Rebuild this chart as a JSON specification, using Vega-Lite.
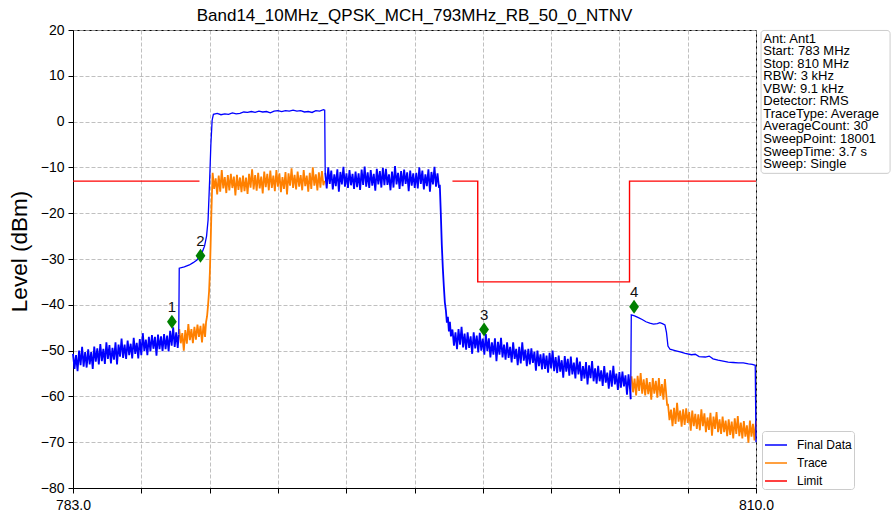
{
"$schema": "https://vega.github.io/schema/vega-lite/v6.json",
"width": 683, "height": 458,
"autosize": {"type": "none"},
"padding": {"left": 73, "top": 30, "right": 135, "bottom": 30},
"background": "white",
"title": {"text": "Band14_10MHz_QPSK_MCH_793MHz_RB_50_0_NTNV", "fontSize": 17, "fontWeight": "normal", "color": "black", "anchor": "middle", "frame": "group", "offset": -2},
"datasets": {
"bn1": [
{"f":783.00,"v":-50.7},{"f":783.06,"v":-54.0},{"f":783.12,"v":-51.0},{"f":783.18,"v":-54.5},{"f":783.24,"v":-50.0},{"f":783.30,"v":-53.2},{"f":783.36,"v":-49.2},{"f":783.42,"v":-53.5},{"f":783.48,"v":-50.3},{"f":783.54,"v":-53.7},
{"f":783.60,"v":-49.7},{"f":783.66,"v":-53.0},{"f":783.72,"v":-50.3},{"f":783.78,"v":-54.0},{"f":783.84,"v":-49.1},{"f":783.90,"v":-52.4},{"f":783.96,"v":-49.5},{"f":784.02,"v":-53.0},{"f":784.08,"v":-48.6},{"f":784.14,"v":-52.3},
{"f":784.20,"v":-49.6},{"f":784.26,"v":-52.9},{"f":784.32,"v":-48.2},{"f":784.38,"v":-51.8},{"f":784.44,"v":-48.8},{"f":784.50,"v":-52.8},{"f":784.56,"v":-49.4},{"f":784.62,"v":-52.0},{"f":784.68,"v":-48.2},{"f":784.74,"v":-53.0},
{"f":784.80,"v":-48.7},{"f":784.86,"v":-51.3},{"f":784.92,"v":-47.4},{"f":784.98,"v":-51.6},{"f":785.04,"v":-48.7},{"f":785.10,"v":-51.8},{"f":785.16,"v":-47.8},{"f":785.22,"v":-51.0},{"f":785.28,"v":-48.5},{"f":785.34,"v":-51.7},
{"f":785.40,"v":-47.2},{"f":785.46,"v":-50.7},{"f":785.52,"v":-48.3},{"f":785.58,"v":-51.7},{"f":785.64,"v":-47.5},{"f":785.70,"v":-51.0},{"f":785.76,"v":-46.2},{"f":785.82,"v":-50.1},{"f":785.88,"v":-47.6},{"f":785.94,"v":-51.0},
{"f":786.00,"v":-47.0},{"f":786.06,"v":-50.2},{"f":786.12,"v":-46.6},{"f":786.18,"v":-49.6},{"f":786.24,"v":-47.0},{"f":786.30,"v":-51.1},{"f":786.36,"v":-46.5},{"f":786.42,"v":-49.7},{"f":786.48,"v":-46.9},{"f":786.54,"v":-50.1},
{"f":786.60,"v":-46.4},{"f":786.66,"v":-49.7},{"f":786.72,"v":-46.7},{"f":786.78,"v":-50.2},{"f":786.84,"v":-45.7},{"f":786.90,"v":-48.9},{"f":786.96,"v":-44.9},{"f":787.02,"v":-49.2},{"f":787.08,"v":-46.0},{"f":787.14,"v":-49.4},
{"f":787.18,"v":-46.5}
],
"bt1": [
{"f":787.18,"v":-46.5},
{"f":787.20,"v":-32.0},{"f":787.40,"v":-31.7},{"f":787.60,"v":-31.3},{"f":787.75,"v":-30.8},{"f":787.90,"v":-30.2},{"f":788.00,"v":-29.5},{"f":788.10,"v":-28.6},{"f":788.20,"v":-27.2},{"f":788.28,"v":-25.0},{"f":788.34,"v":-21.5},{"f":788.40,"v":-13.0},{"f":788.45,"v":-5.0},{"f":788.50,"v":0.3},
{"f":788.55,"v":1.6},{"f":788.70,"v":1.8},{"f":788.85,"v":1.5},{"f":789.00,"v":1.7},{"f":789.15,"v":1.6},{"f":789.30,"v":1.9},{"f":789.45,"v":1.7},{"f":789.60,"v":1.8},{"f":789.75,"v":2.1},{"f":789.90,"v":2.0},
{"f":790.05,"v":2.2},{"f":790.20,"v":2.0},{"f":790.35,"v":2.3},{"f":790.50,"v":2.1},{"f":790.65,"v":2.2},{"f":790.80,"v":1.9},{"f":790.95,"v":2.3},{"f":791.10,"v":2.4},{"f":791.25,"v":2.2},{"f":791.40,"v":2.4},
{"f":791.55,"v":2.3},{"f":791.70,"v":2.5},{"f":791.85,"v":2.3},{"f":792.00,"v":2.4},{"f":792.15,"v":2.1},{"f":792.30,"v":2.2},{"f":792.45,"v":2.0},{"f":792.60,"v":2.4},{"f":792.75,"v":2.3},{"f":792.90,"v":2.6},{"f":792.95,"v":2.5},
{"f":792.97,"v":-11.2}
],
"bn2": [
{"f":792.97,"v":-11.2},{"f":793.03,"v":-14.6},{"f":793.09,"v":-10.0},{"f":793.15,"v":-13.6},{"f":793.21,"v":-10.7},{"f":793.27,"v":-14.8},{"f":793.33,"v":-11.5},{"f":793.39,"v":-14.1},{"f":793.45,"v":-10.4},{"f":793.51,"v":-15.3},
{"f":793.57,"v":-11.0},{"f":793.63,"v":-13.7},{"f":793.69,"v":-9.9},{"f":793.75,"v":-14.2},{"f":793.81,"v":-11.3},{"f":793.87,"v":-14.5},{"f":793.93,"v":-10.6},{"f":793.99,"v":-13.9},{"f":794.05,"v":-11.4},{"f":794.11,"v":-14.7},
{"f":794.17,"v":-10.9},{"f":794.23,"v":-14.3},{"f":794.29,"v":-11.3},{"f":794.35,"v":-14.9},{"f":794.41,"v":-10.5},{"f":794.47,"v":-13.8},{"f":794.53,"v":-9.8},{"f":794.59,"v":-14.2},{"f":794.65,"v":-11.1},{"f":794.71,"v":-14.5},
{"f":794.77,"v":-10.6},{"f":794.83,"v":-14.0},{"f":794.89,"v":-11.4},{"f":794.95,"v":-15.1},{"f":795.01,"v":-10.3},{"f":795.07,"v":-13.7},{"f":795.13,"v":-10.8},{"f":795.19,"v":-14.4},{"f":795.25,"v":-10.1},{"f":795.31,"v":-13.9},
{"f":795.37,"v":-10.3},{"f":795.43,"v":-13.8},{"f":795.49,"v":-11.5},{"f":795.55,"v":-15.0},{"f":795.61,"v":-10.9},{"f":795.67,"v":-14.4},{"f":795.73,"v":-9.7},{"f":795.79,"v":-13.7},{"f":795.85,"v":-11.2},{"f":795.91,"v":-14.7},
{"f":795.97,"v":-10.8},{"f":796.03,"v":-14.1},{"f":796.09,"v":-10.5},{"f":796.15,"v":-13.6},{"f":796.21,"v":-11.1},{"f":796.27,"v":-15.2},{"f":796.33,"v":-10.7},{"f":796.39,"v":-14.0},{"f":796.45,"v":-11.3},{"f":796.51,"v":-14.5},
{"f":796.57,"v":-11.2},{"f":796.63,"v":-14.6},{"f":796.69,"v":-10.0},{"f":796.75,"v":-13.6},{"f":796.81,"v":-10.7},{"f":796.87,"v":-14.8},{"f":796.93,"v":-11.5},{"f":796.99,"v":-14.1},{"f":797.05,"v":-10.4},{"f":797.11,"v":-15.3},
{"f":797.17,"v":-11.0},{"f":797.23,"v":-13.7},{"f":797.29,"v":-9.9},{"f":797.35,"v":-14.2},{"f":797.41,"v":-11.3},{"f":797.47,"v":-14.5},
{"f":797.50,"v":-13.8},{"f":797.54,"v":-20.0},{"f":797.58,"v":-27.0},{"f":797.62,"v":-32.0},{"f":797.66,"v":-36.0},{"f":797.70,"v":-39.5},{"f":797.74,"v":-41.2},{"f":797.78,"v":-43.9},{"f":797.82,"v":-42.6},{"f":797.86,"v":-45.8},{"f":797.90,"v":-43.7},{"f":797.94,"v":-46.9},
{"f":798.00,"v":-45.4},{"f":798.06,"v":-48.9},{"f":798.12,"v":-46.0},{"f":798.18,"v":-49.7},{"f":798.24,"v":-45.3},{"f":798.30,"v":-48.7},{"f":798.36,"v":-44.8},{"f":798.42,"v":-49.3},{"f":798.48,"v":-46.3},{"f":798.54,"v":-49.8},
{"f":798.60,"v":-46.0},{"f":798.66,"v":-49.4},{"f":798.72,"v":-46.9},{"f":798.78,"v":-50.7},{"f":798.84,"v":-46.0},{"f":798.90,"v":-49.5},{"f":798.96,"v":-46.7},{"f":799.02,"v":-50.4},{"f":799.08,"v":-46.1},{"f":799.14,"v":-50.0},
{"f":799.20,"v":-47.4},{"f":799.26,"v":-50.9},{"f":799.32,"v":-46.4},{"f":799.38,"v":-50.1},{"f":799.44,"v":-47.3},{"f":799.50,"v":-51.5},{"f":799.56,"v":-48.2},{"f":799.62,"v":-50.9},{"f":799.68,"v":-47.3},{"f":799.74,"v":-52.3},
{"f":799.80,"v":-48.1},{"f":799.86,"v":-50.9},{"f":799.92,"v":-47.2},{"f":799.98,"v":-51.5},{"f":800.04,"v":-48.7},{"f":800.10,"v":-52.0},{"f":800.16,"v":-48.2},{"f":800.22,"v":-51.6},{"f":800.28,"v":-49.2},{"f":800.34,"v":-52.6},
{"f":800.40,"v":-48.2},{"f":800.46,"v":-51.8},{"f":800.52,"v":-49.6},{"f":800.58,"v":-53.2},{"f":800.64,"v":-49.2},{"f":800.70,"v":-52.8},{"f":800.76,"v":-48.2},{"f":800.82,"v":-52.2},{"f":800.88,"v":-49.8},{"f":800.94,"v":-53.4},
{"f":801.00,"v":-49.6},{"f":801.06,"v":-53.0},{"f":801.12,"v":-49.5},{"f":801.18,"v":-52.7},{"f":801.24,"v":-50.2},{"f":801.30,"v":-54.4},{"f":801.36,"v":-50.0},{"f":801.42,"v":-53.4},{"f":801.48,"v":-50.8},{"f":801.54,"v":-54.1},
{"f":801.60,"v":-50.6},{"f":801.66,"v":-54.0},{"f":801.72,"v":-51.1},{"f":801.78,"v":-54.8},{"f":801.84,"v":-50.5},{"f":801.90,"v":-53.9},{"f":801.96,"v":-50.0},{"f":802.02,"v":-54.5},{"f":802.08,"v":-51.4},{"f":802.14,"v":-54.9},
{"f":802.20,"v":-51.1},{"f":802.26,"v":-54.6},{"f":802.32,"v":-52.1},{"f":802.38,"v":-55.9},{"f":802.44,"v":-51.2},{"f":802.50,"v":-54.6},{"f":802.56,"v":-51.8},{"f":802.62,"v":-55.5},{"f":802.68,"v":-51.3},{"f":802.74,"v":-55.2},
{"f":802.80,"v":-52.6},{"f":802.86,"v":-56.1},{"f":802.92,"v":-51.5},{"f":802.98,"v":-55.2},{"f":803.04,"v":-52.4},{"f":803.10,"v":-56.6},{"f":803.16,"v":-53.4},{"f":803.22,"v":-56.1},{"f":803.28,"v":-52.5},{"f":803.34,"v":-57.4},
{"f":803.40,"v":-53.2},{"f":803.46,"v":-56.0},{"f":803.52,"v":-52.3},{"f":803.58,"v":-56.7},{"f":803.64,"v":-53.9},{"f":803.70,"v":-57.2},{"f":803.76,"v":-53.3},{"f":803.82,"v":-56.7},{"f":803.88,"v":-54.3},{"f":803.94,"v":-57.7},
{"f":804.00,"v":-53.4},{"f":804.06,"v":-57.0},{"f":804.12,"v":-54.8},{"f":804.18,"v":-58.3},{"f":804.24,"v":-54.3},{"f":804.30,"v":-57.9},{"f":804.36,"v":-53.3},{"f":804.42,"v":-57.4},{"f":804.48,"v":-55.0},{"f":804.54,"v":-58.6},
{"f":804.60,"v":-54.7},{"f":804.66,"v":-58.1},{"f":804.72,"v":-54.6},{"f":804.78,"v":-57.8},{"f":804.84,"v":-55.4},{"f":804.90,"v":-59.6},{"f":804.96,"v":-55.2},{"f":805.02,"v":-58.5},
{"f":805.045,"v":-60.6}
],
"bt2": [
{"f":805.045,"v":-60.6},{"f":805.07,"v":-42.2},{"f":805.20,"v":-42.4},{"f":805.35,"v":-42.8},{"f":805.50,"v":-43.2},{"f":805.65,"v":-43.7},{"f":805.80,"v":-44.0},{"f":805.95,"v":-44.2},{"f":806.10,"v":-44.1},{"f":806.20,"v":-43.9},{"f":806.30,"v":-44.1},{"f":806.40,"v":-44.4},
{"f":806.46,"v":-46.0},{"f":806.52,"v":-49.0},{"f":806.60,"v":-49.7},{"f":806.80,"v":-50.0},{"f":807.00,"v":-50.3},{"f":807.20,"v":-50.6},{"f":807.45,"v":-50.9},{"f":807.60,"v":-50.8},{"f":807.75,"v":-51.3},{"f":808.00,"v":-51.4},{"f":808.15,"v":-51.2},{"f":808.30,"v":-51.8},{"f":808.50,"v":-52.1},{"f":808.70,"v":-52.3},{"f":808.90,"v":-52.5},{"f":809.10,"v":-52.6},{"f":809.30,"v":-52.7},{"f":809.50,"v":-52.7},{"f":809.70,"v":-52.9},{"f":809.85,"v":-53.0},{"f":809.97,"v":-53.2},{"f":810.00,"v":-70.0}
],
"tr1": [
{"f":787.20,"v":-45.3},{"f":787.26,"v":-48.4},{"f":787.32,"v":-46.2},{"f":787.38,"v":-50.0},{"f":787.44,"v":-45.5},{"f":787.50,"v":-48.5},{"f":787.56,"v":-44.2},{"f":787.62,"v":-47.7},{"f":787.68,"v":-45.3},{"f":787.74,"v":-48.4},
{"f":787.80,"v":-44.8},{"f":787.86,"v":-47.6},{"f":787.92,"v":-44.3},{"f":787.98,"v":-47.0},{"f":788.04,"v":-44.6},{"f":788.10,"v":-48.2},{"f":788.16,"v":-44.1},{"f":788.22,"v":-47.0},
{"f":788.26,"v":-43.8},{"f":788.30,"v":-42.5},{"f":788.34,"v":-40.0},{"f":788.38,"v":-37.0},{"f":788.41,"v":-33.0},{"f":788.44,"v":-27.0},{"f":788.47,"v":-20.0},{"f":788.50,"v":-14.5},
{"f":788.52,"v":-11.2},{"f":788.58,"v":-14.7},{"f":788.64,"v":-12.4},{"f":788.70,"v":-15.9},{"f":788.76,"v":-11.8},{"f":788.82,"v":-15.3},{"f":788.88,"v":-10.6},{"f":788.94,"v":-14.6},{"f":789.00,"v":-12.1},{"f":789.06,"v":-15.6},
{"f":789.12,"v":-11.7},{"f":789.18,"v":-15.0},{"f":789.24,"v":-11.4},{"f":789.30,"v":-14.5},{"f":789.36,"v":-12.0},{"f":789.42,"v":-16.1},{"f":789.48,"v":-11.6},{"f":789.54,"v":-14.9},{"f":789.60,"v":-12.2},{"f":789.66,"v":-15.4},
{"f":789.72,"v":-11.8},{"f":789.78,"v":-15.2},{"f":789.84,"v":-12.2},{"f":789.90,"v":-15.8},{"f":789.96,"v":-11.4},{"f":790.02,"v":-14.4},{"f":790.08,"v":-10.4},{"f":790.14,"v":-14.8},{"f":790.20,"v":-11.7},{"f":790.26,"v":-15.1},
{"f":790.32,"v":-11.2},{"f":790.38,"v":-14.6},{"f":790.44,"v":-12.0},{"f":790.50,"v":-15.7},{"f":790.56,"v":-10.9},{"f":790.62,"v":-14.3},{"f":790.68,"v":-11.4},{"f":790.74,"v":-15.0},{"f":790.80,"v":-10.7},{"f":790.86,"v":-14.5},
{"f":790.92,"v":-11.8},{"f":790.98,"v":-15.2},{"f":791.04,"v":-10.6},{"f":791.10,"v":-14.2},{"f":791.16,"v":-11.3},{"f":791.22,"v":-15.4},{"f":791.28,"v":-12.1},{"f":791.34,"v":-14.7},{"f":791.40,"v":-11.0},{"f":791.46,"v":-15.9},
{"f":791.52,"v":-11.3},{"f":791.58,"v":-14.0},{"f":791.64,"v":-10.2},{"f":791.70,"v":-14.5},{"f":791.76,"v":-11.6},{"f":791.82,"v":-14.8},{"f":791.88,"v":-10.9},{"f":791.94,"v":-14.2},{"f":792.00,"v":-11.7},{"f":792.06,"v":-15.0},
{"f":792.12,"v":-10.6},{"f":792.18,"v":-14.1},{"f":792.24,"v":-11.8},{"f":792.30,"v":-15.3},{"f":792.36,"v":-11.2},{"f":792.42,"v":-14.7},{"f":792.48,"v":-10.0},{"f":792.54,"v":-14.0},{"f":792.60,"v":-11.5},{"f":792.66,"v":-15.0},
{"f":792.72,"v":-11.1},{"f":792.78,"v":-14.4},{"f":792.84,"v":-10.8},{"f":792.90,"v":-13.9},{"f":792.94,"v":-12.9}
],
"tr2": [
{"f":805.08,"v":-55.6},{"f":805.14,"v":-59.1},{"f":805.20,"v":-56.1},{"f":805.26,"v":-59.8},{"f":805.32,"v":-55.5},{"f":805.38,"v":-58.8},{"f":805.44,"v":-54.9},{"f":805.50,"v":-59.4},{"f":805.56,"v":-56.3},{"f":805.62,"v":-59.8},
{"f":805.68,"v":-56.0},{"f":805.74,"v":-59.5},{"f":805.80,"v":-56.9},{"f":805.86,"v":-60.7},{"f":805.92,"v":-56.0},{"f":805.98,"v":-59.4},{"f":806.04,"v":-56.6},{"f":806.10,"v":-60.3},{"f":806.16,"v":-56.0},{"f":806.22,"v":-59.9},
{"f":806.28,"v":-57.3},{"f":806.34,"v":-60.7},{"f":806.40,"v":-56.2},{"f":806.45,"v":-59.5},{"f":806.49,"v":-62.0},
{"f":806.52,"v":-61.6},{"f":806.58,"v":-65.2},{"f":806.64,"v":-62.9},{"f":806.70,"v":-66.5},{"f":806.76,"v":-62.5},{"f":806.82,"v":-66.0},{"f":806.88,"v":-61.4},{"f":806.94,"v":-65.5},{"f":807.00,"v":-63.1},{"f":807.06,"v":-66.6},
{"f":807.12,"v":-62.8},{"f":807.18,"v":-66.2},{"f":807.24,"v":-62.6},{"f":807.30,"v":-65.8},{"f":807.36,"v":-63.4},{"f":807.42,"v":-67.5},{"f":807.48,"v":-63.1},{"f":807.54,"v":-66.5},{"f":807.60,"v":-63.8},{"f":807.66,"v":-67.1},
{"f":807.72,"v":-63.9},{"f":807.78,"v":-67.4},{"f":807.84,"v":-62.8},{"f":807.90,"v":-66.5},{"f":807.96,"v":-63.7},{"f":808.02,"v":-67.8},{"f":808.08,"v":-64.6},{"f":808.14,"v":-67.3},{"f":808.20,"v":-63.6},{"f":808.26,"v":-68.6},
{"f":808.32,"v":-64.4},{"f":808.38,"v":-67.1},{"f":808.44,"v":-63.4},{"f":808.50,"v":-67.8},{"f":808.56,"v":-65.0},{"f":808.62,"v":-68.2},{"f":808.68,"v":-64.4},{"f":808.74,"v":-67.8},{"f":808.80,"v":-65.3},{"f":808.86,"v":-68.7},
{"f":808.92,"v":-65.0},{"f":808.98,"v":-68.4},{"f":809.04,"v":-65.5},{"f":809.10,"v":-69.2},{"f":809.16,"v":-64.8},{"f":809.22,"v":-68.2},{"f":809.28,"v":-64.3},{"f":809.34,"v":-68.7},{"f":809.40,"v":-65.7},{"f":809.46,"v":-69.2},
{"f":809.52,"v":-65.4},{"f":809.58,"v":-68.8},{"f":809.64,"v":-66.3},{"f":809.70,"v":-70.1},{"f":809.76,"v":-65.3},{"f":809.82,"v":-68.8},{"f":809.88,"v":-66.0},{"f":809.94,"v":-69.6},{"f":810.00,"v":-65.4}
],
"lim": [
{"f":783,"v":-13,"g":"a","i":0},{"f":788,"v":-13,"g":"a","i":1},
{"f":798,"v":-13,"g":"b","i":2},{"f":799,"v":-13,"g":"b","i":3},{"f":799,"v":-35,"g":"b","i":4},{"f":805,"v":-35,"g":"b","i":5},{"f":805,"v":-13,"g":"b","i":6},{"f":810,"v":-13,"g":"b","i":7}
],
"mk": [
{"f":786.91,"v":-43.7,"n":"1"},{"f":788.04,"v":-29.3,"n":"2"},{"f":799.25,"v":-45.4,"n":"3"},{"f":805.18,"v":-40.4,"n":"4"}
],
"stats": [
{"t":"Ant: Ant1\nStart: 783 MHz\nStop: 810 MHz\nRBW: 3 kHz\nVBW: 9.1 kHz\nDetector: RMS\nTraceType: Average\nAverageCount: 30\nSweepPoint: 18001\nSweepTime: 3.7 s\nSweep: Single"}
]
},
"layer": [
{"data": {"name": "tr1"}, "mark": {"type": "line", "strokeWidth": 1.8},
 "encoding": {
  "x": {"field": "f", "type": "quantitative", "title": null,
   "scale": {"domain": [783, 810], "nice": false, "zero": false},
   "axis": {"values": [783, 785.7, 788.4, 791.1, 793.8, 796.5, 799.2, 801.9, 804.6, 807.3, 810], "labelExpr": "datum.value == 783 || datum.value == 810 ? format(datum.value, '.1f') : ''", "labelFlush": false, "labelPadding": 5}},
  "y": {"field": "v", "type": "quantitative", "title": "Level (dBm)",
   "scale": {"domain": [-80, 20], "nice": false, "zero": false},
   "axis": {"values": [-80, -70, -60, -50, -40, -30, -20, -10, 0, 10, 20], "titleFontSize": 22.5, "titlePadding": 9, "titleY": 221, "labelPadding": 4}},
  "color": {"datum": "Trace", "type": "nominal", "scale": {"domain": ["Final Data", "Trace", "Limit"], "range": ["#0000ff", "#ff8000", "#ff0000"]}, "legend": {"orient": "none", "legendX": 689, "legendY": 401, "title": null, "symbolType": "stroke", "symbolSize": 484, "symbolStrokeWidth": 1.5, "labelFontSize": 12, "labelColor": "black", "rowPadding": -8, "padding": 2, "labelOffset": 9, "strokeColor": "#cccccc", "fillColor": "white", "cornerRadius": 3}}}},
{"data": {"name": "tr2"}, "mark": {"type": "line", "strokeWidth": 1.8},
 "encoding": {
  "x": {"field": "f", "type": "quantitative", "scale": {"domain": [783, 810], "nice": false, "zero": false}},
  "y": {"field": "v", "type": "quantitative", "scale": {"domain": [-80, 20], "nice": false, "zero": false}},
  "color": {"datum": "Trace", "type": "nominal"}}},
{"data": {"name": "bn1"}, "mark": {"type": "line", "strokeWidth": 1.8},
 "encoding": {
  "x": {"field": "f", "type": "quantitative", "scale": {"domain": [783, 810], "nice": false, "zero": false}},
  "y": {"field": "v", "type": "quantitative", "scale": {"domain": [-80, 20], "nice": false, "zero": false}},
  "color": {"datum": "Final Data", "type": "nominal"}}},
{"data": {"name": "bn2"}, "mark": {"type": "line", "strokeWidth": 1.8},
 "encoding": {
  "x": {"field": "f", "type": "quantitative", "scale": {"domain": [783, 810], "nice": false, "zero": false}},
  "y": {"field": "v", "type": "quantitative", "scale": {"domain": [-80, 20], "nice": false, "zero": false}},
  "color": {"datum": "Final Data", "type": "nominal"}}},
{"data": {"name": "bt1"}, "mark": {"type": "line", "strokeWidth": 1.3},
 "encoding": {
  "x": {"field": "f", "type": "quantitative", "scale": {"domain": [783, 810], "nice": false, "zero": false}},
  "y": {"field": "v", "type": "quantitative", "scale": {"domain": [-80, 20], "nice": false, "zero": false}},
  "color": {"datum": "Final Data", "type": "nominal"}}},
{"data": {"name": "bt2"}, "mark": {"type": "line", "strokeWidth": 1.3},
 "encoding": {
  "x": {"field": "f", "type": "quantitative", "scale": {"domain": [783, 810], "nice": false, "zero": false}},
  "y": {"field": "v", "type": "quantitative", "scale": {"domain": [-80, 20], "nice": false, "zero": false}},
  "color": {"datum": "Final Data", "type": "nominal"}}},
{"data": {"name": "lim"}, "mark": {"type": "line", "strokeWidth": 1.4},
 "encoding": {
  "x": {"field": "f", "type": "quantitative", "scale": {"domain": [783, 810], "nice": false, "zero": false}},
  "y": {"field": "v", "type": "quantitative", "scale": {"domain": [-80, 20], "nice": false, "zero": false}},
  "color": {"datum": "Limit", "type": "nominal"}, "detail": {"field": "g"}, "order": {"field": "i", "type": "quantitative"}}},
{"data": {"name": "mk"}, "mark": {"type": "point", "filled": true, "opacity": 1, "color": "#008000", "shape": "M0,-1L0.7,0L0,1L-0.7,0Z", "size": 196},
 "encoding": {
  "x": {"field": "f", "type": "quantitative", "scale": {"domain": [783, 810], "nice": false, "zero": false}},
  "y": {"field": "v", "type": "quantitative", "scale": {"domain": [-80, 20], "nice": false, "zero": false}}}},
{"data": {"name": "mk"}, "mark": {"type": "text", "dy": -15, "fontSize": 15, "color": "#111111", "baseline": "middle"},
 "encoding": {
  "x": {"field": "f", "type": "quantitative", "scale": {"domain": [783, 810], "nice": false, "zero": false}},
  "y": {"field": "v", "type": "quantitative", "scale": {"domain": [-80, 20], "nice": false, "zero": false}},
  "text": {"field": "n"}}},
{"data": {"name": "stats"}, "mark": {"type": "rect", "fill": "white", "stroke": "#cccccc", "strokeWidth": 1, "cornerRadius": 3},
 "encoding": {"x": {"datum": 810.2, "type": "quantitative"}, "x2": {"datum": 815.3}, "y": {"datum": 19.9, "type": "quantitative"}, "y2": {"datum": -11.3}}},
{"data": {"name": "stats"}, "mark": {"type": "text", "align": "left", "baseline": "alphabetic", "fontSize": 13, "lineHeight": 12.56, "lineBreak": "\n", "color": "black"},
 "encoding": {"x": {"datum": 810.29, "type": "quantitative"}, "y": {"datum": 17.27, "type": "quantitative"}, "text": {"field": "t", "type": "nominal"}}}
],
"config": {
 "font": "Liberation Sans",
 "view": {"stroke": "black", "strokeWidth": 1},
 "axis": {"domainColor": "black", "tickColor": "black", "labelColor": "black", "titleColor": "black", "labelFontSize": 14, "tickSize": 5, "gridColor": "#b0b0b0", "gridDash": [4, 2], "gridWidth": 0.8, "titleFontWeight": "normal"}
}
}
